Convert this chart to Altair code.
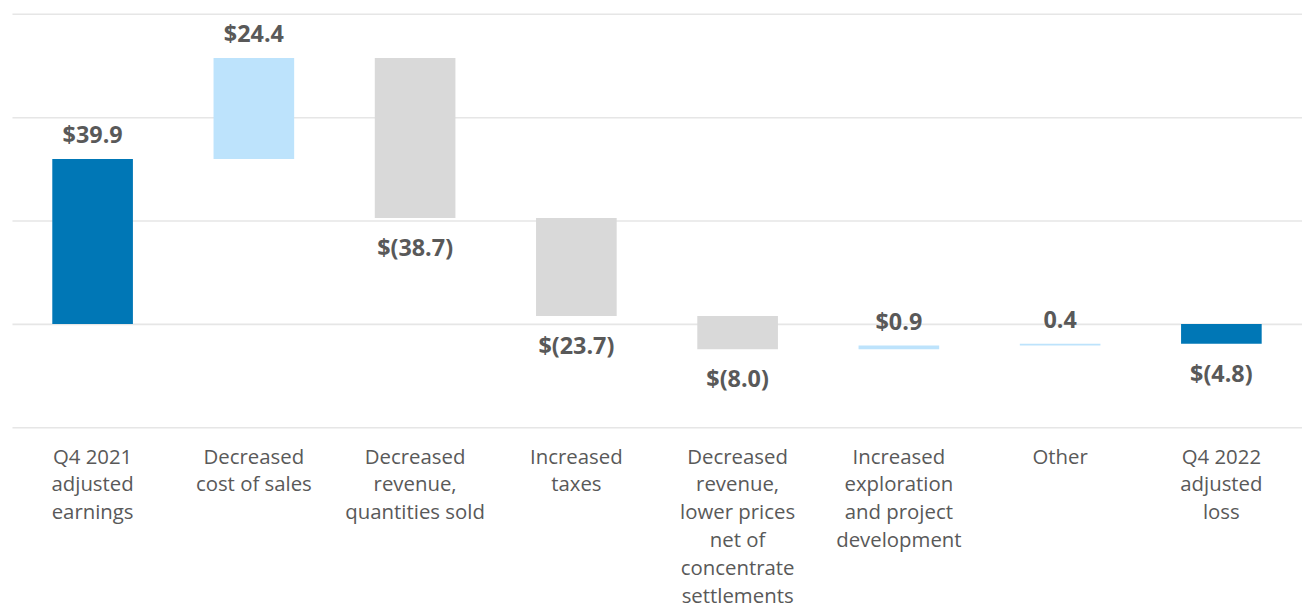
import altair as alt
import pandas as pd

categories = [
    "Q4 2021|adjusted|earnings",
    "Decreased|cost of sales",
    "Decreased|revenue,|quantities sold",
    "Increased|taxes",
    "Decreased|revenue,|lower prices|net of|concentrate|settlements",
    "Increased|exploration|and project|development",
    "Other",
    "Q4 2022|adjusted|loss",
]
steps = [39.9, 24.4, -38.7, -23.7, -8.0, 0.9, 0.4, -4.8]
kinds = ["total", "up", "down", "down", "down", "up", "up", "total"]
labels = ["$39.9", "$24.4", "$(38.7)", "$(23.7)", "$(8.0)", "$0.9", "0.4", "$(4.8)"]

palette = {"total": "#0077B6", "up": "#BDE3FC", "down": "#D9D9D9"}

rows = []
running = 0.0
for i, (c, s, k, l) in enumerate(zip(categories, steps, kinds, labels)):
    if k == "total":
        start, end = 0.0, s
        running = s
    else:
        start, end = running, running + s
        running = end
    rows.append({
        "order": i, "cat": c, "start": start, "end": end,
        "color": palette[k], "label": l,
        "top": max(start, end), "bottom": min(start, end),
        "dir": "up" if s >= 0 else "down",
    })
df = pd.DataFrame(rows)

xenc = alt.X("cat:N", sort=categories, title=None,
             scale=alt.Scale(paddingInner=0.5, paddingOuter=0.25),
             axis=alt.Axis(labelExpr="split(datum.label, '|')", labelAngle=0,
                           labelFont="Open Sans", labelFontSize=20.5,
                           labelColor="#595959", labelLineHeight=28,
                           labelPadding=20, labelBaseline="top",
                           ticks=False, domain=False, grid=False, labelLimit=300))
yscale = alt.Scale(domain=[-25, 75], nice=False, zero=False)
yaxis = alt.Axis(values=[-25, 0, 25, 50, 75], labels=False, ticks=False,
                 domain=False, grid=True, gridColor="#E6E6E6", gridWidth=1.6,
                 title=None)

base = alt.Chart(df)

bars = base.mark_bar().encode(
    x=xenc,
    y=alt.Y("start:Q", scale=yscale, axis=yaxis),
    y2="end:Q",
    color=alt.Color("color:N", scale=None),
)

up_text = base.transform_filter(alt.datum.dir == "up").mark_text(
    font="Open Sans", fontSize=23.5, fontWeight="bold", color="#595959",
    baseline="alphabetic", dy=-16,
).encode(x=alt.X("cat:N", sort=categories), y=alt.Y("top:Q", scale=yscale), text="label:N")

down_text = base.transform_filter(alt.datum.dir == "down").mark_text(
    font="Open Sans", fontSize=23.5, fontWeight="bold", color="#595959",
    baseline="top", dy=19,
).encode(x=alt.X("cat:N", sort=categories), y=alt.Y("bottom:Q", scale=yscale), text="label:N")

chart = alt.layer(bars, up_text, down_text).properties(
    width=1298, height=416,
    autosize=alt.AutoSizeParams(type="none"),
    padding={"left": 4, "top": 4, "right": 0, "bottom": 183},
    background="white",
).configure_view(stroke=None, strokeWidth=0)

chart.save("out.html", embed_options={"renderer": "svg", "actions": False})
